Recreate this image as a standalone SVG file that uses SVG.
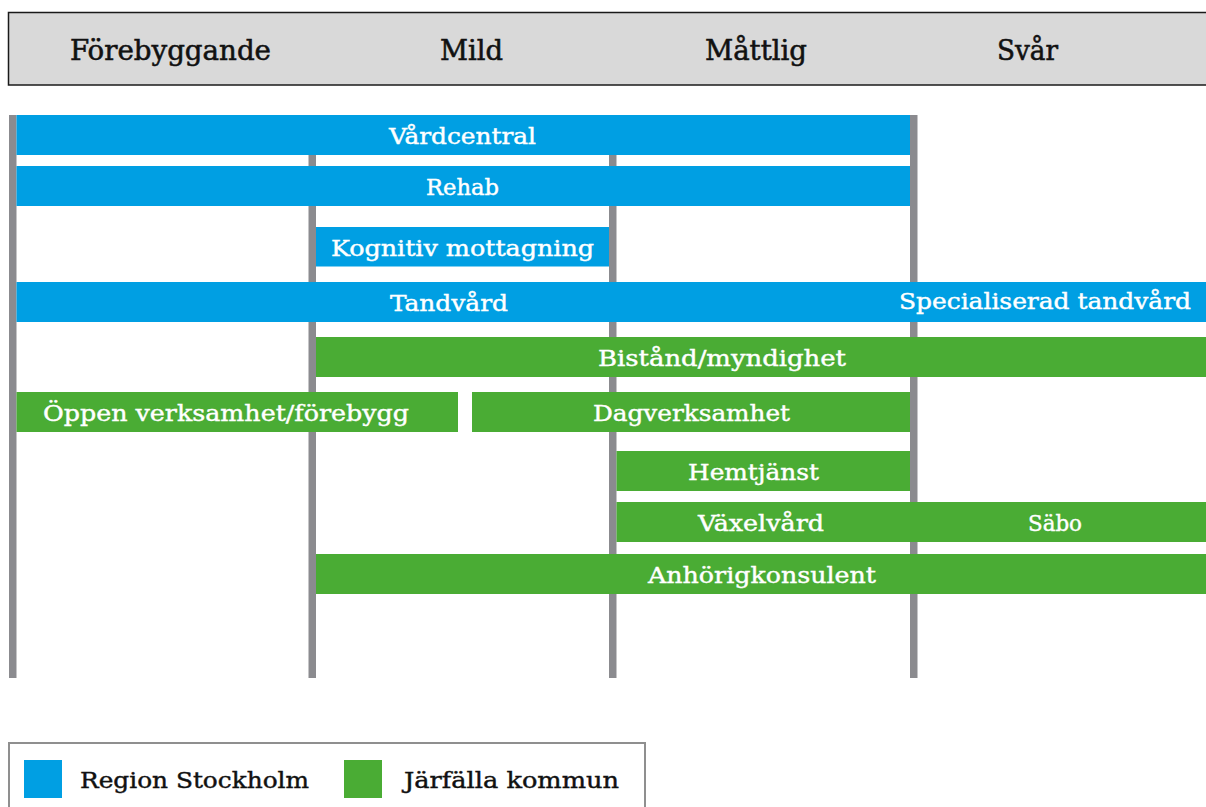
<svg xmlns="http://www.w3.org/2000/svg" width="1206" height="807" viewBox="0 0 1206 807">
<style>
.hdr{font-family:"DejaVu Serif Condensed","DejaVu Serif",serif;font-size:27px;fill:#111;stroke:#111;stroke-width:0.5px;}
.lbl{font-family:"DejaVu Serif Condensed","DejaVu Serif",serif;font-size:23px;fill:#fff;stroke:#fff;stroke-width:0.4px;}
.leg{font-family:"DejaVu Serif Condensed","DejaVu Serif",serif;font-size:23px;fill:#111;stroke:#111;stroke-width:0.4px;}
.blue{fill:#009fe3;}
.green{fill:#4aac34;}
.vline{fill:#8b8b8f;}
</style>
<rect width="1206" height="807" fill="#ffffff"/>
<g id="header">
<rect x="8.5" y="12.5" width="1210" height="72.5" fill="#d9d9d9" stroke="#1a1a1a" stroke-width="1.5"/>
<text class="hdr" x="70" y="60" textLength="201" lengthAdjust="spacingAndGlyphs">Förebyggande</text>
<text class="hdr" x="440" y="60" textLength="63" lengthAdjust="spacingAndGlyphs">Mild</text>
<text class="hdr" x="705" y="60" textLength="102" lengthAdjust="spacingAndGlyphs">Måttlig</text>
<text class="hdr" x="997" y="60" textLength="61" lengthAdjust="spacingAndGlyphs">Svår</text>
</g>
<g id="connectors">
<rect class="vline" x="9" y="115" width="7.5" height="563"/>
<rect class="vline" x="308.5" y="115" width="7.5" height="563"/>
<rect class="vline" x="609" y="115" width="7.5" height="563"/>
<rect class="vline" x="910" y="115" width="7.5" height="563"/>
</g>
<g id="vardcentral"><rect class="blue" x="16.5" y="115" width="893.5" height="40"/><text class="lbl" x="389" y="144" textLength="147" lengthAdjust="spacingAndGlyphs">Vårdcentral</text></g>
<g id="rehab"><rect class="blue" x="16.5" y="166" width="893.5" height="40"/><text class="lbl" x="426" y="195" textLength="73" lengthAdjust="spacingAndGlyphs">Rehab</text></g>
<g id="kognitiv"><rect class="blue" x="316" y="227" width="293" height="39.5"/><text class="lbl" x="331" y="256" textLength="263" lengthAdjust="spacingAndGlyphs">Kognitiv mottagning</text></g>
<g id="tandvard"><rect class="blue" x="16.5" y="282" width="1190" height="40"/><text class="lbl" x="390" y="311" textLength="118" lengthAdjust="spacingAndGlyphs">Tandvård</text><text class="lbl" x="899" y="309" textLength="292" lengthAdjust="spacingAndGlyphs">Specialiserad tandvård</text></g>
<g id="bistand"><rect class="green" x="316" y="337" width="890" height="40"/><text class="lbl" x="598" y="366" textLength="248" lengthAdjust="spacingAndGlyphs">Bistånd/myndighet</text></g>
<g id="oppen"><rect class="green" x="16.5" y="392" width="441.5" height="40"/><text class="lbl" x="43" y="421" textLength="366" lengthAdjust="spacingAndGlyphs">Öppen verksamhet/förebygg</text></g>
<g id="dagverksamhet"><rect class="green" x="472" y="392" width="438" height="40"/><text class="lbl" x="593" y="421" textLength="197" lengthAdjust="spacingAndGlyphs">Dagverksamhet</text></g>
<g id="hemtjanst"><rect class="green" x="616.5" y="451" width="293.5" height="40"/><text class="lbl" x="688" y="480" textLength="131" lengthAdjust="spacingAndGlyphs">Hemtjänst</text></g>
<g id="vaxelvard"><rect class="green" x="616.5" y="502" width="590" height="40"/><text class="lbl" x="698" y="531" textLength="126" lengthAdjust="spacingAndGlyphs">Växelvård</text><text class="lbl" x="1028" y="531" textLength="54" lengthAdjust="spacingAndGlyphs">Säbo</text></g>
<g id="anhorig"><rect class="green" x="316" y="554" width="890" height="40"/><text class="lbl" x="648" y="583" textLength="228" lengthAdjust="spacingAndGlyphs">Anhörigkonsulent</text></g>
<g id="legend">
<rect x="9" y="743" width="636" height="80" fill="#fff" stroke="#8f8f8f" stroke-width="2"/>
<rect class="blue" x="24" y="760" width="38" height="38"/>
<text class="leg" x="80" y="788" textLength="229" lengthAdjust="spacingAndGlyphs">Region Stockholm</text>
<rect class="green" x="344" y="760" width="38" height="38"/>
<text class="leg" x="404" y="788" textLength="215" lengthAdjust="spacingAndGlyphs">Järfälla kommun</text>
</g>
</svg>
